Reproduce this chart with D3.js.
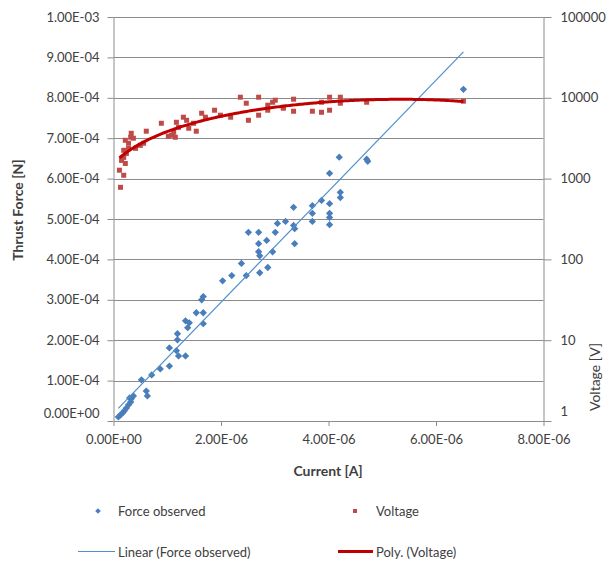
<!DOCTYPE html>
<html><head><meta charset="utf-8">
<script src="https://cdn.jsdelivr.net/npm/d3@7"></script>
<style>
html,body{margin:0;padding:0;background:#fff;}
svg{display:block;}
text{font-family:Lato,"Open Sans",sans-serif;}
</style></head>
<body>
<svg id="chart" width="616" height="568"></svg>
<script>
// ---- data (current in microamperes, force in 1e-4 N, voltage in V) ----
const forceCurrent_uA = [0.09,0.13,0.17,0.20,0.24,0.28,0.32,0.33,0.37,0.30,0.52,0.61,0.63,0.71,0.87,1.04,1.04,1.17,1.19,1.19,1.21,1.34,1.34,1.38,1.41,1.54,1.67,1.67,1.64,1.67,2.03,2.20,2.38,2.47,2.51,2.70,2.70,2.70,2.72,2.72,2.85,2.87,2.96,3.01,3.05,3.20,3.35,3.35,3.37,3.37,3.70,3.70,3.70,3.87,4.02,4.02,4.02,4.02,4.02,4.20,4.22,4.22,4.71,4.73,6.51];
const forceValue_e4 = [0.10,0.15,0.20,0.25,0.32,0.40,0.47,0.55,0.62,0.57,1.02,0.74,0.62,1.14,1.29,1.36,1.81,1.74,2.16,2.01,1.61,1.61,2.48,2.31,2.43,2.68,2.68,2.41,3.00,3.08,3.47,3.60,3.90,3.60,4.67,4.67,4.39,4.19,4.09,3.67,4.47,3.80,4.19,4.67,4.89,4.94,5.29,4.84,4.76,4.39,5.33,5.14,4.94,5.46,5.38,5.14,5.04,4.86,6.13,6.53,5.66,5.53,6.48,6.43,8.21];
const voltCurrent_uA = [0.13,0.19,0.11,0.15,0.22,0.19,0.24,0.19,0.22,0.28,0.32,0.33,0.37,0.28,0.41,0.50,0.56,0.61,0.89,1.02,1.08,1.12,1.15,1.17,1.21,1.30,1.36,1.40,1.54,1.49,1.64,1.71,1.88,1.99,2.18,2.36,2.47,2.51,2.70,2.70,2.87,2.87,2.96,3.01,3.16,3.35,3.35,3.16,3.70,3.87,3.87,4.02,4.02,4.22,4.22,4.71,6.51];
const voltValue = [780,1100,1270,1680,1540,1830,2050,2240,2980,2740,3250,3640,3160,2370,2370,2580,2740,3860,4840,3340,3440,3740,3250,4980,4310,5750,5270,4200,3860,4840,6440,5750,7020,6090,5750,10170,8570,5270,10170,6090,7020,8090,8810,9340,7430,9610,6820,7640,6820,8810,6620,10170,7020,10170,8570,8810,9080];
// trendline coefficients
const linearTrend = {slope_e4_per_uA: 1.374, intercept_e4: 0.19};
const polyTrend = [1550, 2320.9, -25.05, -23.95]; // V = a + b*I + c*I^2 + d*I^3 (I in uA)
// ticks
const xTickValues = [0, 2e-6, 4e-6, 6e-6, 8e-6];
const xTickLabels = ["0.00E+00","2.00E-06","4.00E-06","6.00E-06","8.00E-06"];
const leftTickValues = [0,1e-4,2e-4,3e-4,4e-4,5e-4,6e-4,7e-4,8e-4,9e-4,1e-3];
const leftTickLabels = ["0.00E+00","1.00E-04","2.00E-04","3.00E-04","4.00E-04","5.00E-04","6.00E-04","7.00E-04","8.00E-04","9.00E-04","1.00E-03"];
const rightTickValues = [1,10,100,1000,10000,100000];
const rightTickLabels = ["1","10","100","1000","10000","100000"];
const legendLabels = ["Force observed","Voltage","Linear (Force observed)","Poly. (Voltage)"];

// ---- layout ----
const L = 113.5, R = 543.5, T = 17, B = 421;
const svg = d3.select("#chart");
const x = d3.scaleLinear().domain([0, 8e-6]).range([L, R]);
const yL = d3.scaleLinear().domain([0, 1e-3]).range([B, T]);
const yR = d3.scaleLog().domain([1, 1e5]).range([B, T]);

const gridColor = "#8c8c8c", textColor = "#404040";
const blue = "#4a7ebb", red = "#be4b48";

// gridlines
svg.append("g").selectAll("line").data(leftTickValues.slice(1)).join("line")
  .attr("x1", L).attr("x2", R)
  .attr("y1", d => Math.round(yL(d)) + 0.5).attr("y2", d => Math.round(yL(d)) + 0.5)
  .attr("stroke", gridColor).attr("stroke-width", 1);

function styleAxis(g){
  g.selectAll("path,line").attr("stroke", gridColor).attr("stroke-width", 1);
  g.selectAll("text").attr("fill", textColor).style("font-size", "13px").style("font-family", "Lato, 'Open Sans', sans-serif");
}
// left axis
const gL = svg.append("g").attr("transform", `translate(${L},0)`)
  .call(d3.axisLeft(yL).tickValues(leftTickValues).tickFormat((d,i)=>leftTickLabels[i]).tickSize(6).tickSizeOuter(0).tickPadding(8))
  .call(styleAxis);
gL.selectAll(".tick").filter(d => d === 0).select("text").attr("dy", "-0.28em");
// right axis
const gR = svg.append("g").attr("transform", `translate(${R},0)`)
  .call(d3.axisRight(yR).tickValues(rightTickValues).tickFormat((d,i)=>rightTickLabels[i]).tickSize(8).tickSizeOuter(0).tickPadding(9))
  .call(styleAxis);
gR.selectAll(".tick").filter(d => d === 1).select("text").attr("dy", "-0.4em");
// bottom axis
const gB = svg.append("g").attr("transform", `translate(0,${B})`)
  .call(d3.axisBottom(x).tickValues(xTickValues).tickFormat((d,i)=>xTickLabels[i]).tickSize(5).tickSizeOuter(0).tickPadding(9))
  .call(styleAxis);

// axis titles
svg.append("text").attr("x", 328).attr("y", 476).attr("text-anchor", "middle")
  .attr("fill", textColor).style("font-size", "14px").style("font-weight", "bold").text("Current [A]");
svg.append("text").attr("transform", "translate(23,210) rotate(-90)").attr("text-anchor", "middle")
  .attr("fill", textColor).style("font-size", "14px").style("font-weight", "bold").text("Thrust Force [N]");
svg.append("text").attr("transform", "translate(600,377) rotate(-90)").attr("text-anchor", "middle")
  .attr("fill", textColor).style("font-size", "14px").text("Voltage [V]");

const diamond = d3.symbol().type(d3.symbolDiamond2 || d3.symbolDiamond).size(34);
// force markers
const forceData = forceCurrent_uA.map((c,i)=>({x:c*1e-6, y:forceValue_e4[i]*1e-4}));
svg.append("g").selectAll("path").data(forceData).join("path")
  .attr("d", diamond).attr("transform", d => `translate(${x(d.x)},${yL(d.y)})`)
  .attr("fill", blue);
// voltage markers
const voltData = voltCurrent_uA.map((c,i)=>({x:c*1e-6, y:voltValue[i]}));
svg.append("g").selectAll("rect").data(voltData).join("rect")
  .attr("x", d => x(d.x)-2.5).attr("y", d => yR(d.y)-2.5).attr("width", 5).attr("height", 5)
  .attr("fill", red);

// linear trendline
const fx = d3.extent(forceCurrent_uA);
const linPts = fx.map(c => [x(c*1e-6), yL((linearTrend.slope_e4_per_uA*c + linearTrend.intercept_e4)*1e-4)]);
svg.append("path").attr("d", d3.line()(linPts)).attr("fill","none").attr("stroke","#4f8fcc").attr("stroke-width",1.2);

// polynomial trendline
const vx = d3.extent(voltCurrent_uA);
const polyPts = d3.range(0, 201).map(k => {
  const c = vx[0] + (vx[1]-vx[0])*k/200;
  const v = polyTrend[0] + polyTrend[1]*c + polyTrend[2]*c*c + polyTrend[3]*c*c*c;
  return [x(c*1e-6), yR(v)];
});
svg.append("path").attr("d", d3.line()(polyPts)).attr("fill","none").attr("stroke","#c00000").attr("stroke-width",3);

// legend
const lg = svg.append("g");
const sm = d3.symbol().type(d3.symbolDiamond2 || d3.symbolDiamond).size(20);
lg.append("path").attr("d", sm).attr("transform","translate(98,511)").attr("fill", blue);
lg.append("rect").attr("x",353).attr("y",509).attr("width",4).attr("height",4).attr("fill", red);
lg.append("line").attr("x1",78).attr("x2",115).attr("y1",551.5).attr("y2",551.5).attr("stroke","#4f8fcc").attr("stroke-width",1.2);
lg.append("line").attr("x1",338).attr("x2",373).attr("y1",551.5).attr("y2",551.5).attr("stroke","#c00000").attr("stroke-width",3);
const lpos = [[118,511],[376,511],[118,552],[376,552]];
lg.selectAll("text").data(legendLabels).join("text")
  .attr("x",(d,i)=>lpos[i][0]).attr("y",(d,i)=>lpos[i][1]).attr("dy","0.35em")
  .attr("fill", textColor).style("font-size","13px").text(d=>d);
</script>
</body></html>
